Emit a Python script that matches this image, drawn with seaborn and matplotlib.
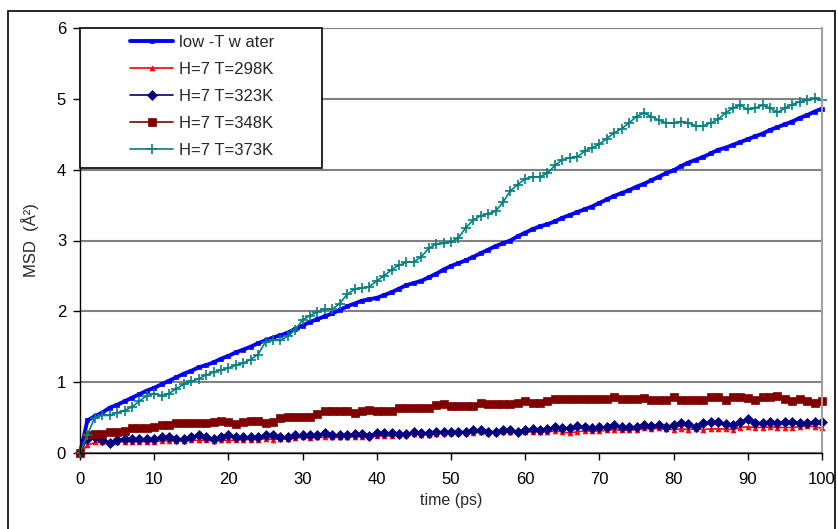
import numpy as np
import pandas as pd
import matplotlib
matplotlib.use("Agg")
import matplotlib.pyplot as plt
import seaborn as sns
from matplotlib.patches import Rectangle

sns.set_theme(style="white")
plt.rcParams['font.family'] = ['Liberation Sans', 'DejaVu Sans']

time_ps = list(range(0, 101))

low_T_water = [0.00, 0.46, 0.52, 0.57, 0.64, 0.68, 0.73, 0.78, 0.83, 0.88,
               0.92, 0.97, 1.02, 1.07, 1.12, 1.16, 1.21, 1.24, 1.28, 1.33,
               1.37, 1.42, 1.46, 1.50, 1.55, 1.59, 1.63, 1.66, 1.70, 1.75,
               1.80, 1.85, 1.89, 1.93, 1.97, 2.02, 2.07, 2.11, 2.15, 2.17,
               2.19, 2.23, 2.27, 2.32, 2.37, 2.40, 2.43, 2.48, 2.53, 2.59,
               2.64, 2.68, 2.72, 2.77, 2.82, 2.87, 2.92, 2.96, 3.00, 3.06,
               3.11, 3.16, 3.20, 3.23, 3.27, 3.32, 3.36, 3.40, 3.44, 3.48,
               3.53, 3.58, 3.63, 3.67, 3.71, 3.76, 3.80, 3.85, 3.90, 3.95,
               3.99, 4.05, 4.10, 4.14, 4.18, 4.23, 4.28, 4.31, 4.35, 4.39,
               4.43, 4.47, 4.51, 4.56, 4.60, 4.64, 4.68, 4.73, 4.77, 4.82,
               4.86]

T298 = [0.00, 0.11, 0.15, 0.15, 0.15, 0.16, 0.16, 0.16, 0.16, 0.16,
        0.16, 0.17, 0.17, 0.17, 0.17, 0.18, 0.18, 0.18, 0.17, 0.18,
        0.18, 0.18, 0.19, 0.19, 0.19, 0.20, 0.19, 0.20, 0.20, 0.21,
        0.22, 0.21, 0.22, 0.22, 0.22, 0.22, 0.22, 0.23, 0.23, 0.23,
        0.24, 0.24, 0.24, 0.25, 0.26, 0.27, 0.26, 0.26, 0.27, 0.28,
        0.28, 0.28, 0.28, 0.28, 0.29, 0.28, 0.28, 0.29, 0.29, 0.29,
        0.30, 0.30, 0.30, 0.30, 0.31, 0.30, 0.28, 0.30, 0.31, 0.31,
        0.31, 0.32, 0.33, 0.32, 0.32, 0.33, 0.35, 0.34, 0.35, 0.34,
        0.33, 0.34, 0.33, 0.34, 0.33, 0.34, 0.34, 0.34, 0.33, 0.36,
        0.37, 0.36, 0.36, 0.37, 0.36, 0.36, 0.36, 0.37, 0.38, 0.37,
        0.35]

T323 = [0.00, 0.20, 0.22, 0.18, 0.14, 0.19, 0.20, 0.20, 0.20, 0.20,
        0.20, 0.22, 0.22, 0.20, 0.20, 0.23, 0.26, 0.22, 0.20, 0.23,
        0.26, 0.22, 0.22, 0.22, 0.23, 0.25, 0.25, 0.22, 0.22, 0.25,
        0.25, 0.25, 0.25, 0.28, 0.25, 0.25, 0.25, 0.27, 0.27, 0.24,
        0.28, 0.28, 0.28, 0.27, 0.27, 0.30, 0.28, 0.28, 0.30, 0.30,
        0.30, 0.30, 0.30, 0.32, 0.32, 0.30, 0.30, 0.32, 0.32, 0.29,
        0.32, 0.34, 0.32, 0.34, 0.37, 0.35, 0.35, 0.38, 0.37, 0.35,
        0.37, 0.37, 0.40, 0.37, 0.37, 0.37, 0.40, 0.38, 0.40, 0.37,
        0.40, 0.43, 0.41, 0.37, 0.42, 0.44, 0.44, 0.41, 0.40, 0.44,
        0.48, 0.43, 0.43, 0.44, 0.43, 0.44, 0.44, 0.42, 0.42, 0.44,
        0.44]

T348 = [0.00, 0.25, 0.27, 0.27, 0.29, 0.30, 0.31, 0.35, 0.35, 0.36,
        0.37, 0.39, 0.40, 0.42, 0.42, 0.42, 0.43, 0.43, 0.44, 0.45,
        0.44, 0.41, 0.44, 0.45, 0.45, 0.43, 0.44, 0.49, 0.51, 0.51,
        0.51, 0.51, 0.55, 0.59, 0.59, 0.59, 0.59, 0.57, 0.60, 0.61,
        0.59, 0.59, 0.59, 0.63, 0.63, 0.63, 0.63, 0.63, 0.68, 0.69,
        0.66, 0.66, 0.67, 0.66, 0.70, 0.69, 0.69, 0.69, 0.69, 0.71,
        0.74, 0.71, 0.71, 0.74, 0.76, 0.76, 0.76, 0.76, 0.76, 0.76,
        0.76, 0.76, 0.79, 0.76, 0.76, 0.76, 0.78, 0.75, 0.75, 0.75,
        0.79, 0.75, 0.75, 0.75, 0.75, 0.79, 0.79, 0.75, 0.79, 0.79,
        0.78, 0.75, 0.79, 0.79, 0.81, 0.76, 0.73, 0.76, 0.74, 0.70,
        0.73]

T373 = [0.00, 0.26, 0.50, 0.53, 0.53, 0.57, 0.60, 0.65, 0.73, 0.81,
        0.84, 0.81, 0.84, 0.91, 0.97, 1.01, 1.05, 1.10, 1.14, 1.17,
        1.20, 1.24, 1.27, 1.32, 1.39, 1.57, 1.59, 1.59, 1.65, 1.74,
        1.88, 1.94, 1.99, 2.03, 2.03, 2.11, 2.24, 2.31, 2.33, 2.35,
        2.43, 2.50, 2.59, 2.65, 2.69, 2.70, 2.77, 2.89, 2.95, 2.96,
        2.98, 3.04, 3.18, 3.29, 3.35, 3.38, 3.41, 3.54, 3.70, 3.79,
        3.87, 3.90, 3.90, 3.95, 4.06, 4.14, 4.17, 4.18, 4.26, 4.31,
        4.36, 4.44, 4.52, 4.58, 4.66, 4.75, 4.80, 4.75, 4.70, 4.66,
        4.66, 4.68, 4.66, 4.62, 4.62, 4.66, 4.71, 4.80, 4.87, 4.91,
        4.85, 4.87, 4.91, 4.87, 4.81, 4.87, 4.92, 4.96, 4.98, 5.01,
        4.98]

labels = ["low -T w ater", "H=7 T=298K", "H=7 T=323K", "H=7 T=348K", "H=7 T=373K"]
series = [low_T_water, T298, T323, T348, T373]
colors = ["#0000FF", "#FF0000", "#000080", "#800000", "#008080"]
markers = ["s", "^", "D", "s", "+"]
msizes = [2.5, 3.5, 5, 5.5, 7]
lws = [2.8, 1.2, 1.2, 1.2, 1.2]

W, H = 838, 529
fig = plt.figure(figsize=(W / 100, H / 100), dpi=100)
ax = fig.add_axes([80 / W, 1 - 453 / H, (822 - 80) / W, (453 - 28) / H])

for lab, vals, c, m, ms, lw in zip(labels, series, colors, markers, msizes, lws):
    df = pd.DataFrame({"time": time_ps, "msd": vals})
    sns.lineplot(data=df, x="time", y="msd", ax=ax, color=c, marker=m,
                 markersize=ms, markeredgecolor=c, markerfacecolor=c,
                 markeredgewidth=1.2 if m == "+" else 0.5, lw=lw,
                 label=lab, legend=False, clip_on=False)

ax.set_xlim(0, 100)
ax.set_ylim(0, 6)
ax.set_xticks(range(0, 101, 10))
ax.set_yticks(range(0, 7))
ax.yaxis.grid(True, color="#808080", lw=1.5)
ax.xaxis.grid(False)
ax.set_axisbelow(True)
for s in ["left", "bottom"]:
    ax.spines[s].set_color("black")
    ax.spines[s].set_linewidth(1.0)
ax.spines["right"].set_color("#a0a0a0")
ax.spines["right"].set_linewidth(1.5)
ax.spines["top"].set_visible(False)
ax.tick_params(axis="both", which="major", labelsize=12, colors="black",
               direction="out", length=5, width=1, left=True, bottom=True)
ax.tick_params(axis="x", pad=9)
ax.tick_params(axis="y", pad=5)
ax.set_xlabel("time (ps)", fontsize=11.5, labelpad=4)
ax.set_ylabel("MSD  (Å²)", fontsize=12, labelpad=13)

# legend box
box = Rectangle((80 / W, 1 - 168 / H), (322 - 80) / W, (168 - 28) / H,
                transform=fig.transFigure, facecolor="white", edgecolor="black",
                lw=1.2, zorder=5)
fig.add_artist(box)
handles, labs = ax.get_legend_handles_labels()
leg = fig.legend(handles, labs, loc="upper left",
                 bbox_to_anchor=(130 / W, 1 - 35 / H),
                 bbox_transform=fig.transFigure, frameon=False,
                 fontsize=12, borderpad=0, borderaxespad=0,
                 handlelength=2.6, handletextpad=0.35, labelspacing=0.72)
leg.set_zorder(6)

# outer frame
frame = Rectangle((8 / W, -0.05), (835 - 8) / W, 1 - 11 / H + 0.05,
                  transform=fig.transFigure, facecolor="none",
                  edgecolor="black", lw=1.2, zorder=10)
fig.add_artist(frame)

fig.savefig("out.png", dpi=100)
